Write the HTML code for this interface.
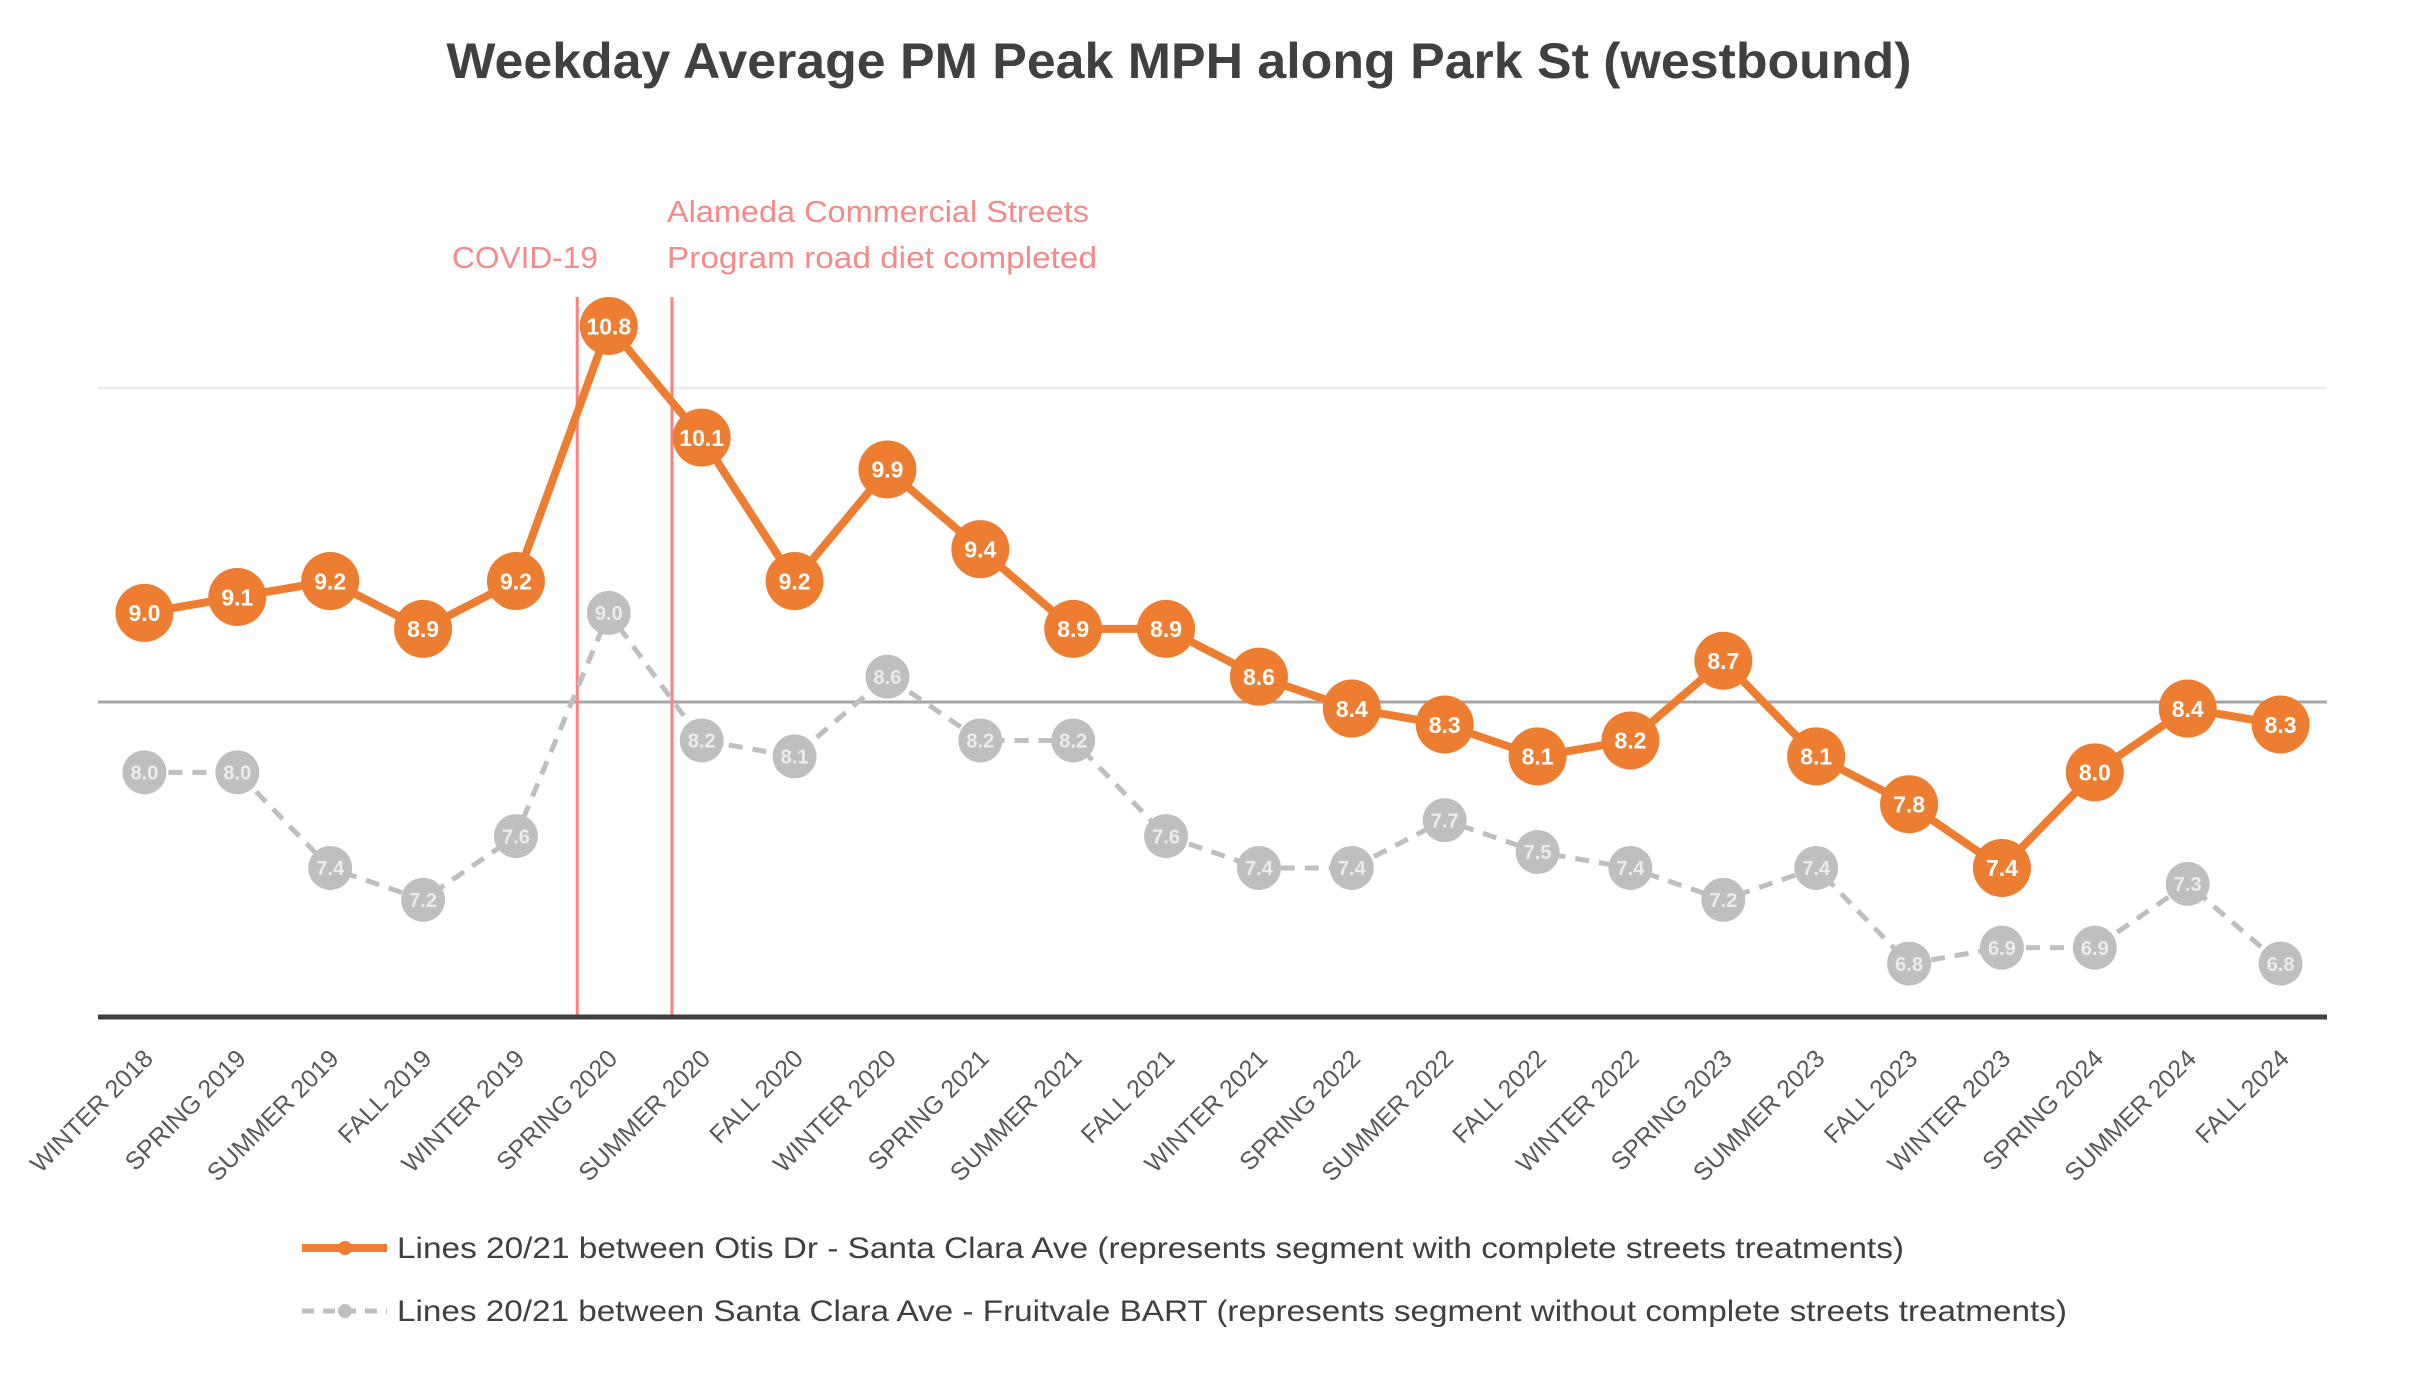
<!DOCTYPE html>
<html><head><meta charset="utf-8"><style>
html,body{margin:0;padding:0;background:#fff;}
svg{display:block;font-family:"Liberation Sans",sans-serif;}
</style></head><body>
<svg id="chart" width="2413" height="1376" viewBox="0 0 2413 1376">
<text x="1179" y="78" text-anchor="middle" font-size="50" font-weight="bold" fill="#404040" textLength="1465" lengthAdjust="spacingAndGlyphs">Weekday Average PM Peak MPH along Park St (westbound)</text>
<line x1="98" x2="2327" y1="388" y2="388" stroke="#eeeeee" stroke-width="3"/>
<line x1="98" x2="2327" y1="702" y2="702" stroke="#a6a6a6" stroke-width="3"/>
<g id="annot"></g>
<g id="series"></g>
<line x1="98" x2="2327" y1="1017" y2="1017" stroke="#404040" stroke-width="5"/>
<g id="xlabels"></g>
<text x="452" y="268" font-size="31" fill="#f58a8a" textLength="146" lengthAdjust="spacingAndGlyphs">COVID-19</text>
<text x="667" y="222" font-size="31" fill="#f58a8a" textLength="422" lengthAdjust="spacingAndGlyphs">Alameda Commercial Streets</text>
<text x="667" y="268" font-size="31" fill="#f58a8a" textLength="430" lengthAdjust="spacingAndGlyphs">Program road diet completed</text>
<g>
<line x1="302" x2="387" y1="1248" y2="1248" stroke="#ed7d31" stroke-width="8"/>
<circle cx="345" cy="1248" r="7" fill="#ed7d31"/>
<text x="397" y="1258" font-size="30" fill="#404040" textLength="1507" lengthAdjust="spacingAndGlyphs">Lines 20/21 between Otis Dr - Santa Clara Ave (represents segment with complete streets treatments)</text>
<line x1="302" x2="387" y1="1311" y2="1311" stroke="#bfbfbf" stroke-width="5" stroke-dasharray="12 9"/>
<circle cx="345" cy="1311" r="7" fill="#bfbfbf"/>
<text x="397" y="1321" font-size="30" fill="#404040" textLength="1670" lengthAdjust="spacingAndGlyphs">Lines 20/21 between Santa Clara Ave - Fruitvale BART (represents segment without complete streets treatments)</text>
</g>
</svg>
<script>
const categories=["WINTER 2018","SPRING 2019","SUMMER 2019","FALL 2019","WINTER 2019","SPRING 2020","SUMMER 2020","FALL 2020","WINTER 2020","SPRING 2021","SUMMER 2021","FALL 2021","WINTER 2021","SPRING 2022","SUMMER 2022","FALL 2022","WINTER 2022","SPRING 2023","SUMMER 2023","FALL 2023","WINTER 2023","SPRING 2024","SUMMER 2024","FALL 2024"];
const treatedValues=[9.0,9.1,9.2,8.9,9.2,10.8,10.1,9.2,9.9,9.4,8.9,8.9,8.6,8.4,8.3,8.1,8.2,8.7,8.1,7.8,7.4,8.0,8.4,8.3];
const untreatedValues=[8.0,8.0,7.4,7.2,7.6,9.0,8.2,8.1,8.6,8.2,8.2,7.6,7.4,7.4,7.7,7.5,7.4,7.2,7.4,6.8,6.9,6.9,7.3,6.8];
const eventPositions=[5.16,6.18]; // category-band positions of event markers
const NS="http://www.w3.org/2000/svg";
const L=98,R=2327;
const bw=(R-L)/categories.length;
function xs(i){return L+bw*(i+0.5);}
function ys(v){return 326+(10.8-v)*159.4;}
function mk(tag,attrs,parent){const e=document.createElementNS(NS,tag);for(const k in attrs)e.setAttribute(k,attrs[k]);parent.appendChild(e);return e;}
const ann=document.getElementById('annot');
eventPositions.forEach((p,i)=>{
  const x=L+bw*p;
  const l=mk('line',{x1:x,x2:x,y1:297,y2:1017,stroke:'#ff8080','stroke-width':3},ann);
  
  
});
const g=document.getElementById('series');
function drawSeries(vals,name,color,width,dash,r,labelColor,fs){
  const pts=vals.map((v,i)=>xs(i)+','+ys(v)).join(' ');
  const pl=mk('polyline',{points:pts,fill:'none',stroke:color,'stroke-width':width,'stroke-linejoin':'round'},g);
  if(dash)pl.setAttribute('stroke-dasharray',dash);
  
  
  vals.forEach((v,i)=>{
    const c=mk('circle',{cx:xs(i),cy:ys(v),r:r,fill:color},g);
    
    
    const t=mk('text',{x:xs(i),y:ys(v)+fs*0.36,'text-anchor':'middle','font-size':fs,'font-weight':'bold',fill:labelColor},g);
    t.textContent=v.toFixed(1);
    
    
  });
}
drawSeries(untreatedValues,'untreated-series','#bfbfbf',5,'14 10',22,'#ececec',20);
drawSeries(treatedValues,'treated-series','#ed7d31',8,null,29,'#ffffff',23);
const xl=document.getElementById('xlabels');
categories.forEach((c,i)=>{
  const x=xs(i)+10,y=1060;
  const t=mk('text',{x:x,y:y,'text-anchor':'end','font-size':25,fill:'#595959',transform:`rotate(-45 ${x} ${y})`},xl);
  t.textContent=c;
  
  
});
</script>
</body></html>
